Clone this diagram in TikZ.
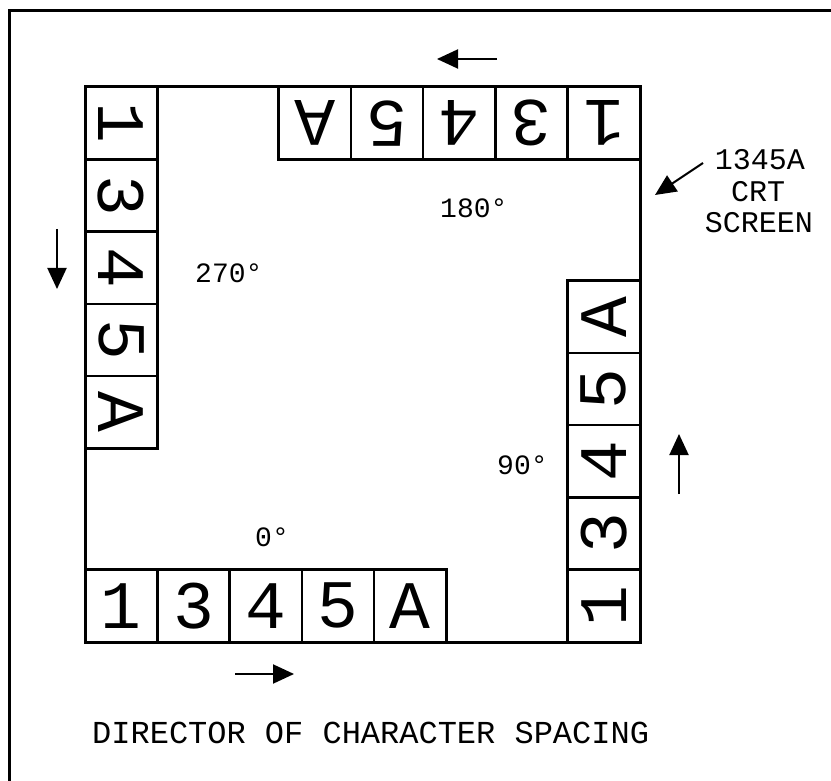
\documentclass[tikz,border=0pt]{standalone}
\usepackage{fontspec}
\newfontfamily\plotfont{Liberation Mono}
\usetikzlibrary{arrows.meta}
\tikzset{
  frameline/.style={line width=3.5pt},
  screenline/.style={line width=3pt},
  cell/.style={draw, line width=2.5pt, minimum size=72.3pt, inner sep=0pt, font=\plotfont\fontsize{68}{68}\selectfont},
  anglelabel/.style={anchor=base west, inner sep=0pt, font=\plotfont\fontsize{28}{28}\selectfont},
  crtlabel/.style={anchor=base, inner sep=0pt, font=\plotfont\fontsize{30}{30}\selectfont},
  titlelabel/.style={anchor=base west, inner sep=0pt, font=\plotfont\fontsize{32}{32}\selectfont},
  dirarrow/.style={line width=2pt, -{Triangle[length=21pt, width=19pt]}},
}
\begin{document}
\begin{tikzpicture}[x=1pt, y=-1pt]
\useasboundingbox (0,0) rectangle (831,781);
% outer frame (top and left edges visible)
\coordinate (fTR) at (831,10.5);
\coordinate (fTL) at (9.5,10.5);
\coordinate (fBL) at (9.5,781);
\draw[frameline] (fTR) -- (fTL) -- (fBL);
% screen
\coordinate (sTL) at (85,87);
\coordinate (sBR) at (640,642);
\draw[screenline] (sTL) rectangle (sBR);
% bottom row, 0 degrees
\node[cell] (b1) at (121.15,605.85) {1};
\node[cell] (b3) at (193.45,605.85) {3};
\node[cell] (b4) at (265.75,605.85) {4};
\node[cell] (b5) at (338.05,605.85) {5};
\node[cell] (bA) at (410.35,605.85) {A};
% right column, 90 degrees
\node[cell, rotate=90] (r1) at (603.85,605.85) {1};
\node[cell, rotate=90] (r3) at (603.85,533.55) {3};
\node[cell, rotate=90] (r4) at (603.85,461.25) {4};
\node[cell, rotate=90] (r5) at (603.85,388.95) {5};
\node[cell, rotate=90] (rA) at (603.85,316.65) {A};
% top row, 180 degrees
\node[cell, rotate=180] (t1) at (603.85,123.15) {1};
\node[cell, rotate=180] (t3) at (531.55,123.15) {3};
\node[cell, rotate=180] (t4) at (459.25,123.15) {4};
\node[cell, rotate=180] (t5) at (386.95,123.15) {5};
\node[cell, rotate=180] (tA) at (314.65,123.15) {A};
% left column, 270 degrees
\node[cell, rotate=-90] (l1) at (121.15,123.15) {1};
\node[cell, rotate=-90] (l3) at (121.15,195.45) {3};
\node[cell, rotate=-90] (l4) at (121.15,267.75) {4};
\node[cell, rotate=-90] (l5) at (121.15,340.05) {5};
\node[cell, rotate=-90] (lA) at (121.15,412.35) {A};
% direction arrows
\coordinate (ta1) at (497,59);   \coordinate (ta2) at (437,59);
\coordinate (la1) at (57,229);   \coordinate (la2) at (57,289);
\coordinate (ra1) at (679,494);  \coordinate (ra2) at (679,434);
\coordinate (ba1) at (235,674);  \coordinate (ba2) at (294,674);
\draw[dirarrow] (ta1) -- (ta2);
\draw[dirarrow] (la1) -- (la2);
\draw[dirarrow] (ra1) -- (ra2);
\draw[dirarrow] (ba1) -- (ba2);
% angle labels
\node[anglelabel] (a180) at (440,218) {180°};
\node[anglelabel] (a270) at (195,283) {270°};
\node[anglelabel] (a90) at (497,474) {90°};
\node[anglelabel] (a0) at (255,546) {0°};
% CRT label
\node[crtlabel] (c1) at (760,170) {1345A};
\node[crtlabel] (c2) at (758,202) {CRT};
\node[crtlabel] (c3) at (759,233) {SCREEN};
\coordinate (ca1) at (703,163);
\coordinate (ca2) at (655,195);
\draw[dirarrow] (ca1) -- (ca2);
% title
\node[titlelabel] (title) at (92,743) {DIRECTOR OF CHARACTER SPACING};
\end{tikzpicture}
\end{document}
